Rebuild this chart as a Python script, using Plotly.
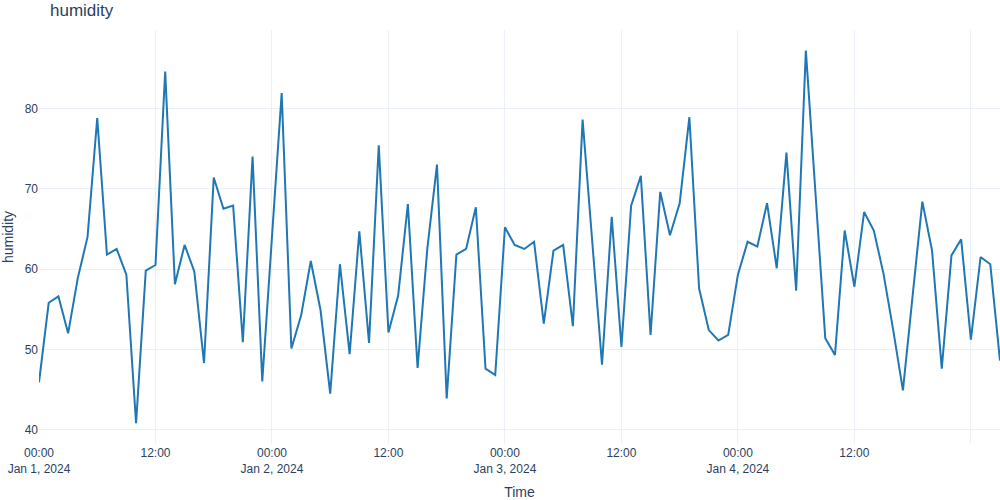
import pandas as pd
import plotly.graph_objects as go

start_time = "2024-01-01 00:00"
n_hours = 100
humidity = [
    45.9, 55.8, 56.6, 52.0, 58.9, 64.0, 78.8, 61.8, 62.5, 59.3,
    40.8, 59.8, 60.5, 84.6, 58.1, 63.0, 59.7, 48.3, 71.4, 67.5,
    67.9, 50.9, 74.0, 46.0, 64.0, 81.9, 50.1, 54.2, 61.0, 54.9,
    44.5, 60.6, 49.4, 64.7, 50.8, 75.4, 52.1, 56.7, 68.1, 47.7,
    62.5, 73.0, 43.9, 61.8, 62.5, 67.7, 47.6, 46.8, 65.2, 63.0,
    62.5, 63.4, 53.2, 62.3, 63.0, 52.9, 78.6, 63.3, 48.1, 66.5,
    50.3, 67.9, 71.6, 51.8, 69.6, 64.2, 68.2, 78.9, 57.6, 52.4,
    51.1, 51.8, 59.3, 63.4, 62.8, 68.2, 60.1, 74.5, 57.3, 87.2,
    69.3, 51.4, 49.3, 64.8, 57.8, 67.1, 64.8, 59.4, 52.4, 44.9,
    56.7, 68.4, 62.3, 47.6, 61.7, 63.7, 51.2, 61.5, 60.6, 48.6,
]
times = pd.date_range(start_time, periods=n_hours, freq="h")

fig = go.Figure(
    go.Scatter(
        x=times,
        y=humidity,
        mode="lines",
        line=dict(color="#1f77b4", width=2),
        name="humidity",
    )
)

fig.update_layout(
    template="plotly_white",
    width=1000,
    height=500,
    title=dict(text="humidity", x=0.05, xanchor="left", y=0.98, yref="container", yanchor="middle"),
    font=dict(family="Liberation Sans, Arial, sans-serif"),
    margin=dict(l=39, r=0, t=30, b=56),
    showlegend=False,
    xaxis=dict(title=dict(text="Time"), dtick=12 * 3600 * 1000, automargin=False),
    yaxis=dict(title=dict(text="humidity"), range=[38.22, 89.76], automargin=False, zeroline=False),
)

fig.write_html(
    "out.html",
    config={"displayModeBar": False},
    post_script="document.body.style.margin='0';document.body.style.overflow='hidden';",
)
